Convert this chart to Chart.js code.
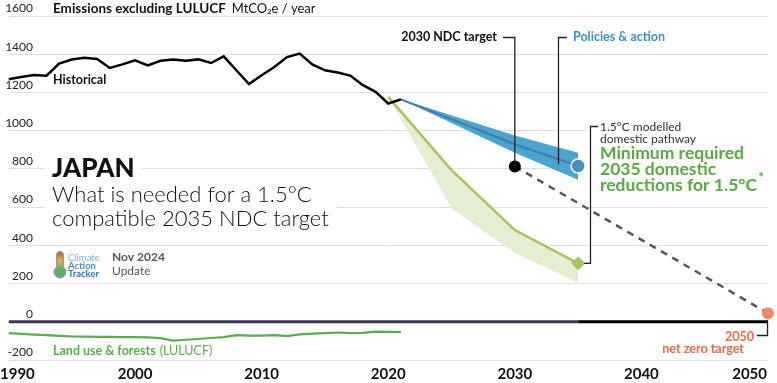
<!DOCTYPE html>
<html>
<head>
<meta charset="utf-8">
<script src="https://cdn.jsdelivr.net/npm/chart.js@4.4.1/dist/chart.umd.min.js"></script>
<style>
  html, body { margin: 0; padding: 0; background: #fff; }
  #wrap { width: 777px; height: 383px; }
</style>
</head>
<body>
<div id="wrap"><canvas id="chart" width="777" height="383"></canvas></div>
<script>
// --- data (MtCO2e / year) ---
const histYears = [1990, 1991, 1992, 1993, 1994, 1995, 1996, 1997, 1998, 1999,
  2000, 2001, 2002, 2003, 2004, 2005, 2006, 2007, 2008, 2009,
  2010, 2011, 2012, 2013, 2014, 2015, 2016, 2017, 2018, 2019, 2020, 2021];
const historical = [1269, 1281, 1291, 1288, 1351, 1372, 1382, 1375, 1328, 1347,
  1368, 1342, 1366, 1373, 1366, 1373, 1354, 1389, 1316, 1244,
  1290, 1333, 1385, 1403, 1347, 1316, 1304, 1288, 1238, 1203, 1142, 1164];
const lulucf = [-59, -63, -67, -70, -74, -77, -78, -79, -79, -80,
  -80, -82, -86, -99, -94, -90, -85, -80, -70, -72,
  -72, -70, -75, -66, -62, -59, -56, -59, -58, -52, -53, -54];

const policyYears = [2021, 2030, 2035];
const policyHigh = [1164, 975, 885];
const policyMid = [1164, 929, 815];
const policyLow = [1164, 885, 743];

const pathYears = [2020, 2025, 2030, 2035];
const pathLine = [1177, 794, 480, 306];
const pathLow = [1177, 594, 360, 204];

const ndcYears = [2030, 2050];
const ndcPath = [813, 45];

const zeroYears = [1990, 2035, 2050];
const xTicks = [1990, 2000, 2010, 2020, 2030, 2040, 2050];
const yTicks = [-200, 0, 200, 400, 600, 800, 1000, 1200, 1400, 1600];

const FONT = "Lato, 'Open Sans', sans-serif";

function pts(xs, ys) {
  return xs.map((x, i) => ({ x: x, y: ys[i] }));
}

// white boxes that knock out the grid behind text blocks
const knockouts = [
  [45, 156, 97, 26],
  [45, 183, 292, 48],
  [586, 118, 191, 78]
];

const overlay = {
  id: "overlay",
  beforeDatasetsDraw(chart) {
    const ctx = chart.ctx;
    ctx.save();
    ctx.fillStyle = "#fff";
    for (let k of knockouts) ctx.fillRect(k[0], k[1], k[2], k[3]);
    ctx.restore();
  },
  afterDatasetsDraw(chart) {
    const ctx = chart.ctx;
    const xs = chart.scales.x, ys = chart.scales.y;
    const X = (v) => xs.getPixelForValue(v);
    const Y = (v) => ys.getPixelForValue(v);
    ctx.save();

    const text = (t, x, y, font, color, align) => {
      ctx.font = font;
      ctx.fillStyle = color;
      ctx.textAlign = align || "left";
      ctx.textBaseline = "middle";
      ctx.fillText(t, x, y);
      return ctx.measureText(t).width;
    };

    // y tick labels, sitting above their grid line
    for (let v of yTicks) {
      text(String(v), 33, Y(v) - 7.5, "12px " + FONT, "#222", "right");
    }
    // x tick labels
    for (let v of xTicks) {
      let align = "center", px = X(v);
      if (v === 1990) { align = "left"; px = 0; }
      if (v === 2050) { align = "right"; px = 767; }
      text(String(v), px, 374, "bold 15px " + FONT, "#111", align);
    }

    // axis title
    let w = text("Emissions excluding LULUCF", 53, 9, "bold 13.5px " + FONT, "#111");
    text("MtCO₂e / year", 53 + w + 6, 9, "13px " + FONT, "#111");
    text("Historical", 53, 80, "bold 12.5px " + FONT, "#111");

    // big title
    text("JAPAN", 52, 169, "900 26px " + FONT, "#111");
    text("What is needed for a 1.5°C", 52, 195, "300 22px " + FONT, "#111");
    text("compatible 2035 NDC target", 52, 219, "300 22px " + FONT, "#111");

    // logo
    const g = ctx.createLinearGradient(0, 252, 0, 270);
    g.addColorStop(0, "#c8463c");
    g.addColorStop(0.45, "#e8b03a");
    g.addColorStop(1, "#58b36a");
    ctx.fillStyle = "#9a9a9a";
    ctx.beginPath();
    ctx.roundRect(56, 251, 8, 20, 4);
    ctx.arc(60, 272, 6.5, 0, Math.PI * 2);
    ctx.fill();
    ctx.fillStyle = g;
    ctx.beginPath();
    ctx.roundRect(57.5, 252.5, 5, 18, 2.5);
    ctx.fill();
    ctx.fillStyle = "#58b36a";
    ctx.beginPath();
    ctx.arc(60, 272, 5, 0, Math.PI * 2);
    ctx.fill();
    text("Climate", 68, 257.5, "9.5px " + FONT, "#7fb3da");
    text("Action", 68, 265.5, "bold 9.5px " + FONT, "#4b8fc6");
    text("Tracker", 68, 273.5, "bold 9.5px " + FONT, "#2f78b4");
    text("Nov 2024", 112, 257, "bold 12px " + FONT, "#555");
    text("Update", 112, 271, "12px " + FONT, "#555");

    // connectors
    ctx.strokeStyle = "#222";
    ctx.lineWidth = 1.3;
    ctx.beginPath();
    ctx.moveTo(503, 37.5); ctx.lineTo(X(2030), 37.5); ctx.lineTo(X(2030), Y(ndcPath[0]));
    ctx.moveTo(567, 37.5); ctx.lineTo(558.5, 37.5); ctx.lineTo(558.5, Y(826));
    ctx.moveTo(598, 126.5); ctx.lineTo(590.5, 126.5); ctx.lineTo(590.5, Y(pathLine[3]));
    ctx.lineTo(X(2035) + 6, Y(pathLine[3]));
    ctx.stroke();

    text("2030 NDC target", 497, 37, "bold 12.5px " + FONT, "#111", "right");
    text("Policies & action", 573, 37, "bold 12.5px " + FONT, "#3d8fc4");

    text("1.5°C modelled", 600, 127, "12px " + FONT, "#333");
    text("domestic pathway", 600, 139, "12px " + FONT, "#333");
    text("Minimum required", 600, 153, "bold 17.5px " + FONT, "#5aa846");
    text("2035 domestic", 600, 169, "bold 17.5px " + FONT, "#5aa846");
    w = text("reductions for 1.5°C", 600, 185, "bold 17.5px " + FONT, "#5aa846");
    text("*", 600 + w + 1, 177, "bold 14px " + FONT, "#5aa846");

    // net zero label
    ctx.strokeStyle = "#222";
    ctx.beginPath();
    ctx.moveTo(X(2050) - 0.5, Y(0));
    ctx.lineTo(X(2050) - 0.5, 335.5);
    ctx.lineTo(757, 335.5);
    ctx.stroke();
    text("2050", 754, 337, "bold 12.5px " + FONT, "#f0693f", "right");
    text("net zero target", 744, 349, "bold 12.5px " + FONT, "#f0693f", "right");

    w = text("Land use & forests", 53, 351, "bold 12.5px " + FONT, "#5aad4c");
    text("(LULUCF)", 53 + w + 4, 351, "12.5px " + FONT, "#5aad4c");

    ctx.restore();
  }
};

const noPts = { pointRadius: 0, pointHoverRadius: 0 };

const datasets = [
  // markers (on top)
  { data: pts([2030], [ndcPath[0]]), showLine: false, pointRadius: 6, pointBackgroundColor: "#000", pointBorderWidth: 0, clip: false, order: 0 },
  { data: pts([2035], [policyMid[2]]), showLine: false, pointRadius: 7, pointBackgroundColor: "#4a8ec0", pointBorderColor: "#fff", pointBorderWidth: 1.5, clip: false, order: 0 },
  { data: pts([2035], [pathLine[3]]), showLine: false, pointStyle: "rectRot", pointRadius: 7, pointBackgroundColor: "#a6c45c", pointBorderWidth: 0, clip: false, order: 0 },
  { data: pts([2050], [ndcPath[1]]), showLine: false, pointRadius: 6, pointBackgroundColor: "#f28c68", pointBorderWidth: 0, clip: false, order: 0 },
  // NDC to net zero
  { data: pts(ndcYears, ndcPath), borderColor: "#555", borderWidth: 2.5, borderDash: [7, 6], clip: false, ...noPts, order: 1 },
  // historical
  { data: pts(histYears, historical), borderColor: "#000", borderWidth: 2.5, ...noPts, order: 2 },
  // policies & action
  { data: pts(policyYears, policyMid), borderColor: "#3f7dab", borderWidth: 2, ...noPts, order: 3 },
  { data: pts(policyYears, policyHigh), borderWidth: 0, borderColor: "rgba(0,0,0,0)", backgroundColor: "#4ba5d0", fill: "+1", ...noPts, order: 4 },
  { data: pts(policyYears, policyLow), borderWidth: 0, borderColor: "rgba(0,0,0,0)", ...noPts, order: 5 },
  // 1.5C pathway
  { data: pts(pathYears, pathLine), borderColor: "#a6c45c", borderWidth: 2.5, backgroundColor: "#e4eed0", fill: "+1", ...noPts, order: 6 },
  { data: pts(pathYears, pathLow), borderWidth: 0, borderColor: "rgba(0,0,0,0)", ...noPts, order: 7 },
  // LULUCF
  { data: pts(histYears, lulucf), borderColor: "#5aad4c", borderWidth: 2.2, ...noPts, order: 8 },
  // zero line
  { data: pts(zeroYears.slice(0, 2), [0, 0]), borderColor: "#3d3356", borderWidth: 3, ...noPts, order: 9 },
  { data: pts(zeroYears.slice(1), [0, 0]), borderColor: "#000", borderWidth: 3, ...noPts, order: 10 }
];

new Chart(document.getElementById("chart"), {
  type: "line",
  data: { datasets: datasets },
  options: {
    responsive: false,
    animation: false,
    devicePixelRatio: 1,
    layout: { padding: { left: 0, right: 9, top: 16, bottom: 23 } },
    plugins: { legend: { display: false }, tooltip: { enabled: false } },
    scales: {
      x: { type: "linear", min: 1990, max: 2050, display: false },
      y: {
        min: -200, max: 1600,
        ticks: { display: false, stepSize: 200 },
        grid: { color: "#dedede", lineWidth: 1, drawTicks: false },
        border: { display: false }
      }
    }
  },
  plugins: [overlay]
});
</script>
</body>
</html>
